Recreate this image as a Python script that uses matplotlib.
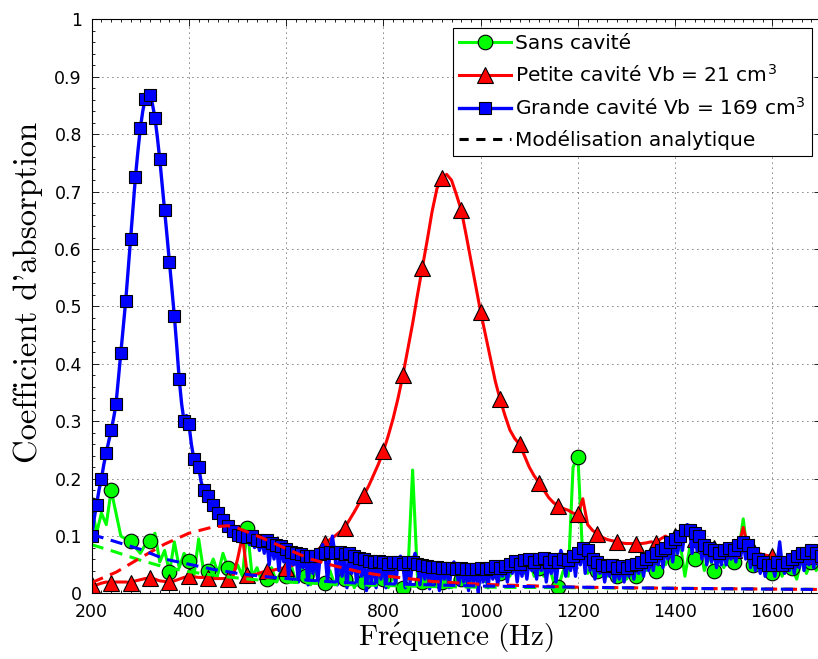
import numpy as np
import matplotlib
matplotlib.use("Agg")
import matplotlib.pyplot as plt
from matplotlib.ticker import MultipleLocator, FormatStrFormatter

# frequences de mesure (pas de 10 Hz)
freq = np.arange(200, 1701, 10)
# la grande cavite est lue plus finement (pas de 5 Hz)
freq_fin = np.arange(200, 1701, 5)

# Sans cavite (mesure)
sans_cavite = [
    0.155, 0.105, 0.14, 0.12, 0.18, 0.14, 0.10, 0.095, 0.091, 0.08,
    0.07, 0.085, 0.091, 0.105, 0.055, 0.075, 0.037, 0.09, 0.045, 0.07,
    0.056, 0.03, 0.095, 0.04, 0.039, 0.06, 0.035, 0.07, 0.045, 0.035,
    0.05, 0.03, 0.114, 0.03, 0.045, 0.02, 0.026, 0.045, 0.02, 0.04,
    0.031, 0.05, 0.02, 0.045, 0.03, 0.015, 0.04, 0.02, 0.019, 0.04,
    0.015, 0.035, 0.025, 0.04, 0.01, 0.03, 0.02, 0.035, 0.015, 0.03,
    0.025, 0.01, 0.03, 0.015, 0.01, 0.03, 0.215, 0.03, 0.02, 0.035,
    0.015, 0.03, 0.02, 0.035, 0.01, 0.03, 0.025, 0.04, 0.015, 0.035,
    0.037, 0.02, 0.04, 0.03, 0.035, 0.05, 0.03, 0.055, 0.055, 0.035,
    0.06, 0.03, 0.045, 0.03, 0.05, 0.02, 0.012, 0.04, 0.03, 0.22,
    0.238, 0.06, 0.035, 0.05, 0.04, 0.05, 0.03, 0.045, 0.03, 0.04,
    0.025, 0.04, 0.03, 0.045, 0.04, 0.055, 0.04, 0.065, 0.05, 0.07,
    0.055, 0.09, 0.03, 0.08, 0.06, 0.085, 0.04, 0.065, 0.04, 0.06,
    0.045, 0.065, 0.055, 0.07, 0.13, 0.06, 0.05, 0.045, 0.06, 0.04,
    0.036, 0.055, 0.03, 0.06, 0.045, 0.025, 0.06, 0.035, 0.055, 0.04,
    0.06,
]

# Petite cavite Vb = 21 cm3 (mesure)
petite_cavite = [
    0.015, 0.015, 0.018, 0.02, 0.019, 0.02, 0.02, 0.02, 0.019, 0.022,
    0.024, 0.026, 0.027, 0.025, 0.022, 0.021, 0.02, 0.022, 0.025, 0.028,
    0.03, 0.029, 0.028, 0.028, 0.027, 0.026, 0.026, 0.026, 0.026, 0.028,
    0.06, 0.10, 0.033, 0.032, 0.034, 0.037, 0.039, 0.04, 0.042, 0.044,
    0.045, 0.048, 0.052, 0.056, 0.06, 0.065, 0.072, 0.08, 0.088, 0.094,
    0.10, 0.107, 0.114, 0.128, 0.142, 0.157, 0.172, 0.188, 0.207, 0.226,
    0.248, 0.275, 0.305, 0.34, 0.38, 0.425, 0.47, 0.52, 0.567, 0.615,
    0.665, 0.705, 0.724, 0.73, 0.72, 0.695, 0.668, 0.625, 0.58, 0.535,
    0.49, 0.45, 0.41, 0.37, 0.338, 0.31, 0.285, 0.27, 0.26, 0.24,
    0.22, 0.205, 0.193, 0.18, 0.167, 0.158, 0.153, 0.148, 0.145, 0.14,
    0.138, 0.165, 0.12, 0.11, 0.104, 0.098, 0.094, 0.092, 0.09, 0.088,
    0.087, 0.087, 0.087, 0.087, 0.088, 0.09, 0.088, 0.095, 0.10, 0.095,
    0.10, 0.105, 0.11, 0.10, 0.095, 0.09, 0.085, 0.085, 0.08, 0.08,
    0.078, 0.08, 0.075, 0.08, 0.115, 0.08, 0.075, 0.07, 0.068, 0.066,
    0.065, 0.062, 0.06, 0.062, 0.06, 0.06, 0.062, 0.065, 0.065, 0.06,
    0.058,
]

# Grande cavite Vb = 169 cm3 (mesure, pas de 5 Hz)
grande_cavite = [
    # 200 -> 560 Hz
    0.10, 0.13, 0.155, 0.18, 0.20, 0.225, 0.245, 0.265, 0.284, 0.305,
    0.33, 0.375, 0.419, 0.465, 0.51, 0.565, 0.618, 0.672, 0.726, 0.77,
    0.81, 0.84, 0.862, 0.875, 0.869, 0.852, 0.829, 0.795, 0.756, 0.712,
    0.668, 0.622, 0.577, 0.53, 0.483, 0.43, 0.373, 0.33, 0.30, 0.31,
    0.295, 0.26, 0.235, 0.24, 0.22, 0.195, 0.18, 0.185, 0.17, 0.16,
    0.155, 0.15, 0.14, 0.135, 0.128, 0.12, 0.118, 0.105, 0.108, 0.10,
    0.102, 0.09, 0.10, 0.095, 0.098, 0.085, 0.10, 0.08, 0.094, 0.075,
    0.092, 0.07, 0.094,
    # 565 -> 1700 Hz
    0.05, 0.088, 0.06, 0.085, 0.04, 0.082, 0.055, 0.078, 0.03, 0.072,
    0.05, 0.07, 0.02, 0.068, 0.045, 0.066, 0.015, 0.065, 0.035, 0.066,
    0.02, 0.068, 0.085, 0.07, 0.02, 0.072, 0.10, 0.07, 0.015, 0.072,
    0.03, 0.068, 0.01, 0.07, 0.035, 0.065, 0.015, 0.062, 0.03, 0.06,
    0.005, 0.056, 0.02, 0.055, 0.01, 0.056, 0.025, 0.054, 0.01, 0.052,
    0.03, 0.055, 0.015, 0.054, 0.065, 0.052, 0.01, 0.055, 0.02, 0.054,
    0.07, 0.052, 0.015, 0.05, 0.025, 0.048, 0.008, 0.046, 0.02, 0.047,
    0.005, 0.045, 0.025, 0.044, 0.01, 0.045, 0.055, 0.043, 0.015, 0.045,
    0.02, 0.042, 0.005, 0.043, 0.02, 0.042, 0.0, 0.045, 0.02, 0.042,
    0.01, 0.045, 0.025, 0.048, 0.015, 0.045, 0.03, 0.048, 0.02, 0.052,
    0.035, 0.056, 0.02, 0.052, 0.03, 0.058, 0.025, 0.06, 0.04, 0.055,
    0.025, 0.06, 0.04, 0.062, 0.02, 0.055, 0.035, 0.06, 0.02, 0.055,
    0.075, 0.06, 0.03, 0.058, 0.04, 0.065, 0.03, 0.07, 0.05, 0.08,
    0.035, 0.075, 0.04, 0.06, 0.025, 0.055, 0.035, 0.05, 0.02, 0.048,
    0.03, 0.05, 0.02, 0.045, 0.025, 0.048, 0.02, 0.045, 0.03, 0.05,
    0.025, 0.052, 0.035, 0.055, 0.03, 0.06, 0.04, 0.065, 0.04, 0.07,
    0.05, 0.075, 0.045, 0.08, 0.06, 0.09, 0.055, 0.095, 0.07, 0.10,
    0.075, 0.11, 0.12, 0.11, 0.07, 0.105, 0.075, 0.10, 0.06, 0.085,
    0.05, 0.08, 0.055, 0.075, 0.045, 0.07, 0.05, 0.075, 0.05, 0.08,
    0.06, 0.075, 0.055, 0.085, 0.065, 0.09, 0.06, 0.085, 0.045, 0.07,
    0.04, 0.06, 0.035, 0.055, 0.03, 0.05, 0.04, 0.05, 0.03, 0.055,
    0.09, 0.05, 0.035, 0.055, 0.04, 0.06, 0.035, 0.065, 0.045, 0.07,
    0.04, 0.07, 0.05, 0.075, 0.045, 0.07, 0.05, 0.065,
]

freq_mod = [200, 250, 300, 350, 400, 450, 480, 500, 550, 600, 650, 700,
            750, 800, 900, 1000, 1200, 1400, 1700]
mod_sans = [0.085, 0.072, 0.058, 0.046, 0.038, 0.032, 0.029, 0.027, 0.023,
            0.02, 0.018, 0.016, 0.015, 0.014, 0.012, 0.011, 0.01, 0.009, 0.007]
mod_petite = [0.019, 0.037, 0.062, 0.086, 0.105, 0.116, 0.118, 0.114, 0.097,
              0.078, 0.06, 0.048, 0.038, 0.031, 0.021, 0.016, 0.011, 0.009, 0.007]
mod_grande = [0.103, 0.09, 0.077, 0.06, 0.051, 0.042, 0.038, 0.035, 0.03,
              0.026, 0.023, 0.02, 0.018, 0.017, 0.015, 0.013, 0.011, 0.009, 0.007]

labels = ["Sans cavité",
          r"Petite cavité Vb = 21 cm$^\mathregular{3}$",
          r"Grande cavité Vb = 169 cm$^\mathregular{3}$",
          "Modélisation analytique"]

assert len(sans_cavite) == len(freq)
assert len(petite_cavite) == len(freq)
assert len(grande_cavite) == len(freq_fin)

plt.rcParams['font.family'] = ['DejaVu Sans']
plt.rcParams['mathtext.fontset'] = 'cm'

fig = plt.figure(figsize=(8.18, 6.59), dpi=100)
ax = fig.add_axes([0.1121, 0.0994, 0.8916, 0.8712])

vert, rouge, bleu = '#00FF00', '#FF0000', '#0000FF'

ax.plot(freq, sans_cavite, '-', color=vert, lw=2.2, marker='o', ms=10.5,
        mfc=vert, mec='k', mew=0.8, markevery=4, label=labels[0])
ax.plot(freq, petite_cavite, '-', color=rouge, lw=2.2, marker='^', ms=11.5,
        mfc=rouge, mec='k', mew=0.8, markevery=4, label=labels[1])
ax.plot(freq_fin, grande_cavite, '-', color=bleu, lw=2.4, marker='s', ms=8,
        mfc=bleu, mec='k', mew=0.8, markevery=2, label=labels[2])

ax.plot(freq_mod, mod_sans, color=vert, lw=2.2, dashes=(4, 2.5))
ax.plot(freq_mod, mod_petite, color=rouge, lw=2.2, dashes=(4, 2.5))
ax.plot(freq_mod, mod_grande, color=bleu, lw=2.2, dashes=(4, 2.5))
ax.plot([], [], color='k', lw=2.2, dashes=(3, 2.5), label=labels[3])

ax.set_xlim(200, 1700)
ax.set_ylim(0, 1)
ax.xaxis.set_major_locator(MultipleLocator(200))
ax.yaxis.set_major_locator(MultipleLocator(0.1))
ax.xaxis.set_minor_locator(MultipleLocator(20))
ax.yaxis.set_minor_locator(MultipleLocator(0.02))
ax.yaxis.set_major_formatter(FormatStrFormatter('%g'))
ax.tick_params(which='both', direction='in', top=True, right=True,
               labelsize=12.5, width=0.6)
ax.tick_params(which='major', length=5)
ax.tick_params(axis='x', which='major', pad=7)
ax.tick_params(axis='y', which='major', pad=7)
ax.tick_params(which='minor', length=2.5)
ax.grid(True, which='major', color='k', linestyle=(0, (1, 5)), linewidth=0.6)
for s in ax.spines.values():
    s.set_linewidth(0.8)

ax.set_xlabel(r'Fr$\acute{\mathrm{e}}$quence (Hz)', family='cmr10',
              fontsize=21, labelpad=0)
ax.set_ylabel("Coefficient d'absorption", family='cmr10', fontsize=23.5)
ax.yaxis.set_label_coords(-0.067, 0.525)

leg = ax.legend(loc='upper right', bbox_to_anchor=(0.9927, 0.9575),
                bbox_transform=fig.transFigure, borderaxespad=0,
                fontsize=14.5, handlelength=2.6, handletextpad=0.2,
                labelspacing=0.55, borderpad=0.3, numpoints=1,
                fancybox=False, framealpha=1, edgecolor='k')
leg.get_frame().set_linewidth(0.8)

fig.savefig('out.png', dpi=100)
